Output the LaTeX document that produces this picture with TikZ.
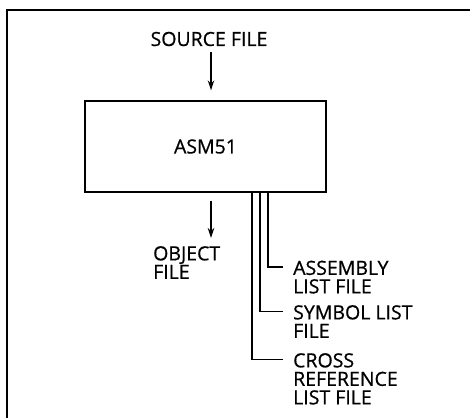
\documentclass[tikz,border=0pt]{standalone}
\usepackage{fontspec}
\setmainfont{Open Sans}[FakeBold=0.7]
\usetikzlibrary{arrows.meta}
\tikzset{
	arr/.style={-{Stealth[length=10pt,width=6.5pt]}, line width=1.2pt},
	tap/.style={line width=1.2pt},
	lbl/.style={inner sep=0pt, align=left, anchor=north west}
}
\begin{document}
\begin{tikzpicture}[x=1pt, y=-1pt, font=\fontsize{19.5}{18.5}\selectfont]
	\useasboundingbox (0,0) rectangle (470,418);
	\draw[line width=1.8pt] (470,10) -- (7,10) -- (7,418);
	\node[inner sep=0pt] (src) at (209,39) {SOURCE FILE};
	\node[draw, line width=1.4pt, minimum width=241pt, minimum height=91pt, inner sep=0pt] (asm) at (205.5,146.5) {ASM51};
	\draw[arr] ([xshift=2pt, yshift=-6pt]src.south) -- ([xshift=5.5pt, yshift=10pt]asm.north);
	\node[lbl] (obj) at (153,246) {OBJECT\\FILE};
	\draw[arr] ([xshift=5.5pt, yshift=-8pt]asm.south) -- ([xshift=58pt, yshift=8pt]obj.north west);
	\coordinate (tapA) at ([xshift=62.5pt]asm.south);
	\coordinate (tapS) at ([xshift=54.5pt]asm.south);
	\coordinate (tapC) at ([xshift=46.5pt]asm.south);
	\node[lbl] (asmlst) at (293,260.5) {ASSEMBLY\\LIST FILE};
	\node[lbl] (symlst) at (293,305) {SYMBOL LIST\\FILE};
	\node[lbl] (crslst) at (293,353) {CROSS\\REFERENCE\\LIST FILE};
	\draw[tap] (tapA) |- ([xshift=-10pt, yshift=-6.5pt]asmlst.north west);
	\draw[tap] (tapS) |- ([xshift=-10pt, yshift=-6.5pt]symlst.north west);
	\draw[tap] (tapC) |- ([xshift=-10pt, yshift=-6.5pt]crslst.north west);
\end{tikzpicture}
\end{document}
